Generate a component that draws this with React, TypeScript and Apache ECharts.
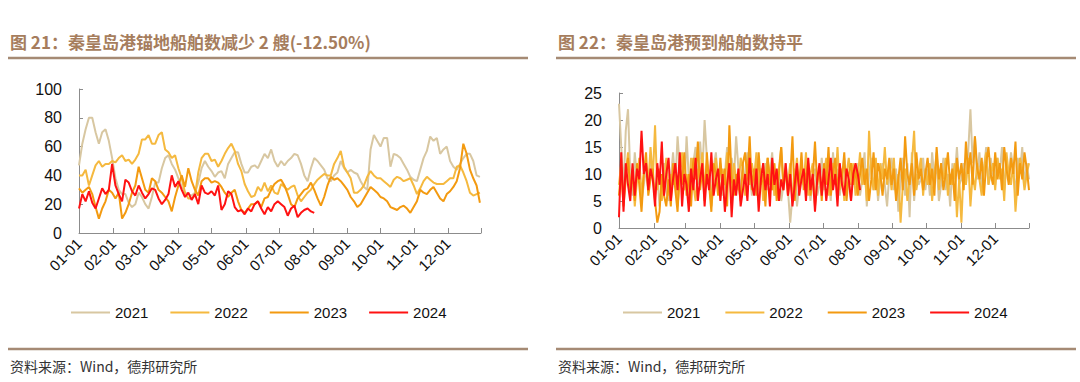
import React, { useEffect, useRef } from "react";
import * as echarts from "echarts";

const YEARS = ["2021", "2022", "2023", "2024"];
const COLORS = ["#d8c7a1", "#f5b93f", "#f39a10", "#ff1212"];
const MONTH_DAYS = [31, 28, 31, 30, 31, 30, 31, 31, 30, 31, 30, 31];

const TITLE_LEFT = "图 21：秦皇岛港锚地船舶数减少 2 艘(-12.50%)";
const TITLE_RIGHT = "图 22：秦皇岛港预到船舶数持平";
const SOURCE = "资料来源：Wind，德邦研究所";

// Left chart (锚地船舶数): one value every 3 days from 01-01
const LEFT_STEP = 3;
const LEFT_2021 = [
  47, 62, 72, 80, 80, 70, 62, 70, 72, 64,
  52, 38, 30, 27, 27, 21, 18, 20, 28, 25,
  20, 17, 25, 35, 35, 45, 52, 54, 48, 44,
  38, 32, 28, 27, 26, 28, 35, 45, 50, 46,
  43, 39, 42, 43, 38, 48, 52, 56, 56, 48,
  42, 42, 46, 47, 45, 50, 55, 52, 58, 50,
  46, 50, 47, 50, 52, 55, 54, 48, 40, 36,
  45, 52, 50, 47, 44, 38, 36, 40, 42, 50,
  45, 42, 44, 42, 41, 36, 32, 30, 58, 68,
  64, 60, 66, 66, 46, 55, 54, 52, 48, 44,
  39, 37, 36, 44, 52, 57, 67, 64, 66, 55,
  58, 60, 50, 46, 44, 48, 52, 55, 55, 50,
  40, 39,
];
const LEFT_2022 = [
  40, 40, 44, 33, 40, 47, 50, 46, 48, 48,
  50, 49, 52, 54, 50, 51, 48, 51, 55, 65,
  65, 68, 62, 62, 68, 70, 58, 56, 52, 54,
  45, 38, 28, 24, 24, 26, 42, 52, 55, 55,
  50, 51, 46, 50, 55, 59, 62, 57, 48, 43,
  34, 29, 25, 26, 32, 29, 35, 29, 33, 28,
  27, 34, 32, 30, 32, 33, 26, 22, 25, 28,
  30, 34, 37, 39, 41, 40, 40, 48, 52, 57,
  46, 42, 38, 28, 28, 30, 33, 39, 43, 40,
  38, 38, 36, 34, 32, 37, 39, 38, 36, 37,
  38, 33, 27, 31, 36, 39, 37, 35, 34, 34,
  34, 36, 38, 38, 46, 47, 42, 36, 28, 26,
  27, 28,
];
const LEFT_2023 = [
  31, 28, 30, 32, 27, 18, 10, 17, 22, 30,
  28, 24, 28, 10, 14, 20, 28, 33, 46, 38,
  30, 28, 38, 36, 30, 28, 25, 22, 15, 25,
  33, 40, 32, 45, 36, 30, 26, 36, 38, 38,
  35, 36, 35, 32, 28, 25, 28, 30, 22, 16,
  14, 17, 20, 20, 22, 18, 24, 25, 30, 34,
  36, 37, 33, 27, 20, 18, 24, 27, 30, 31,
  35, 30, 24, 19, 25, 33, 39, 37, 38, 36,
  33, 30, 25, 22, 18, 20, 24, 28, 32, 30,
  28, 25, 24, 22, 18, 17, 16, 18, 19, 17,
  14, 18, 22, 30, 28, 27, 30, 32, 28, 24,
  22, 27, 29, 32, 36, 45, 62, 55, 44, 38,
  33, 21,
];
const LEFT_2024 = [
  17, 27, 22, 29, 21, 17, 24, 31, 27, 30,
  48, 33, 27, 22, 37, 35, 29, 26, 33, 28,
  24, 27, 31, 30, 24, 20, 23, 27, 40, 32,
  36, 30, 25, 28, 23, 27, 20, 33, 28, 27,
  29, 26, 33, 16, 20, 29, 27, 18, 15, 16,
  13, 17, 15, 20, 22, 17, 13, 18, 15, 20,
  22, 20, 18, 12, 17, 19, 11, 14, 16, 17,
  15, 14,
];

// Right chart (预到船舶数): one value every 2 days from 01-01
const RIGHT_STEP = 2;
const RIGHT_2021 = [
  23, 15, 7, 18, 22, 10, 6, 14, 9, 12, 5, 8, 11, 7, 13, 9,
  6, 10, 4, 8, 12, 7, 5, 9, 14, 8, 17, 11, 10, 7,
  17, 9, 6, 12, 15, 8, 16, 10, 20, 13, 9, 5, 11, 14, 8,
  12, 6, 10, 15, 9, 13, 9, 17, 11, 7, 12, 8, 14, 10, 6,
  9, 13, 5, 11, 8, 12, 7, 10, 14, 6, 9, 11, 5, 8, 12, 7,
  1, 6, 11, 4, 8, 12, 8, 7, 10, 5, 9, 11, 6, 8, 13,
  7, 12, 9, 5, 14, 8, 11, 6, 10, 13, 7, 9, 5, 11, 8,
  12, 6, 9, 14, 4, 10, 13, 7, 11, 5, 9, 12, 8, 4, 10, 13,
  7, 11, 3, 9, 13, 6, 12, 2, 14, 5, 10, 8, 9, 13, 7,
  11, 6, 14, 9, 12, 5, 8, 13, 7, 10, 4, 12, 9, 15, 8,
  9, 12, 8, 14, 22, 12, 17, 9, 14, 7, 11, 15, 8, 13, 10,
  8, 13, 10, 15, 7, 12, 9, 14, 11, 6, 13, 10, 15, 8, 12, 9,
];
const RIGHT_2022 = [
  8, 12, 5, 10, 14, 7, 11, 4, 9, 13, 6, 10, 12, 8, 15, 9,
  19, 7, 11, 5, 9, 13, 6, 10, 8, 12, 4, 9, 14, 7,
  10, 6, 13, 8, 5, 11, 9, 14, 7, 12, 10, 4, 8, 13, 9,
  6, 11, 8, 14, 10, 5, 12, 9, 7, 13, 11, 6, 10, 8, 12,
  9, 14, 7, 11, 5, 10, 13, 8, 12, 6, 9, 11, 15, 7, 10, 8,
  12, 5, 9, 13, 7, 11, 8, 14, 6, 10, 12, 4, 9, 11, 7,
  10, 13, 6, 9, 12, 8, 15, 7, 11, 5, 10, 13, 8, 12, 6,
  9, 14, 8, 11, 5, 18, 10, 7, 13, 6, 12, 9, 15, 8, 11, 7,
  13, 6, 10, 1, 8, 11, 5, 9, 12, 18, 7, 10, 13, 6, 11,
  8, 12, 5, 10, 14, 7, 11, 9, 13, 6, 10, 8, 12, 2, 9,
  1, 11, 8, 13, 4, 10, 7, 12, 9, 6, 11, 14, 8, 10, 12,
  7, 13, 9, 11, 5, 14, 10, 8, 12, 3, 9, 13, 11, 7, 10, 12,
];
const RIGHT_2023 = [
  6, 11, 4, 9, 13, 7, 10, 5, 12, 8, 3, 10, 14, 6, 9, 11,
  5, 1, 3, 10, 6, 4, 9, 4, 12, 7, 3, 11, 8, 14,
  6, 10, 4, 13, 9, 16, 7, 11, 5, 14, 8, 3, 12, 10, 6,
  13, 7, 11, 4, 19, 9, 6, 10, 8, 5, 12, 14, 9, 17, 7,
  11, 6, 14, 8, 10, 4, 13, 9, 7, 12, 5, 10, 15, 8, 11, 6,
  9, 17, 5, 11, 8, 14, 7, 10, 12, 6, 9, 16, 8, 11, 5,
  12, 8, 15, 6, 10, 13, 7, 11, 9, 14, 5, 10, 12, 8, 11,
  6, 10, 13, 8, 11, 5, 9, 14, 7, 12, 10, 6, 11, 9, 13, 8,
  11, 5, 9, 13, 7, 17, 10, 8, 12, 6, 14, 9, 11, 7, 10,
  13, 8, 11, 6, 15, 9, 12, 7, 10, 14, 8, 11, 5, 13, 9,
  12, 7, 16, 10, 14, 8, 17, 11, 9, 13, 6, 12, 15, 10, 8,
  14, 9, 12, 7, 15, 11, 8, 13, 10, 16, 6, 12, 9, 14, 11, 7,
];
const RIGHT_2024 = [
  2, 14, 3, 12, 8, 5, 12, 6, 11, 9, 18, 10, 12, 7, 11, 9,
  4, 12, 8, 16, 6, 10, 13, 5, 9, 12, 7, 14, 4, 10,
  8, 3, 11, 7, 13, 5, 9, 12, 4, 10, 7, 14, 6, 9, 11,
  5, 10, 3, 8, 12, 2, 9, 6, 11, 4, 7, 10, 5, 13, 8,
  6, 11, 3, 9, 12, 7, 10, 4, 13, 8, 11, 5, 9, 7, 12, 6,
  10, 4, 8, 12, 6, 9, 11, 5, 13, 7, 10, 3, 9, 12, 6,
  11, 5, 9, 13, 7, 10, 4, 12, 8, 6, 11, 9, 5, 10, 12,
  10, 7,
];

const LEFT_Y = { min: 0, max: 100, interval: 20 };
const RIGHT_Y = { min: 0, max: 25, interval: 5 };

const pad = (n: number) => (n < 10 ? "0" + n : "" + n);
const DAYS: string[] = [];
MONTH_DAYS.forEach((n, m) => {
  for (let d = 1; d <= n; d++) DAYS.push(`${pad(m + 1)}-${pad(d)}`);
});

const toPairs = (vals: number[], step: number) => vals.map((v, i) => [i * step, v]);

const NUM_FONT = "Liberation Sans";
const CJK_FONT = "Noto Sans CJK SC";
const BROWN = "#a67d5d";
const RULE = "#a58a74";

function xAxis(gridIndex: number) {
  return {
    type: "category",
    gridIndex,
    data: DAYS,
    boundaryGap: false,
    axisLine: { lineStyle: { color: "#8c8c8c", width: 1 } },
    axisTick: {
      inside: true,
      length: 5,
      interval: (i: number, v: string) => v.endsWith("-01") || i === DAYS.length - 1,
      lineStyle: { color: "#8c8c8c" },
    },
    axisLabel: {
      interval: (i: number, v: string) => v.endsWith("-01"),
      rotate: 45,
      fontSize: 15,
      fontFamily: NUM_FONT,
      color: "#111",
      margin: 8,
    },
    splitLine: { show: false },
  };
}

function yAxis(gridIndex: number, cfg: { min: number; max: number; interval: number }) {
  return {
    type: "value",
    gridIndex,
    ...cfg,
    axisLine: { show: true, lineStyle: { color: "#8c8c8c", width: 1 } },
    axisTick: { show: true, inside: true, length: 4, lineStyle: { color: "#8c8c8c" } },
    axisLabel: { fontSize: 16, fontFamily: NUM_FONT, color: "#111", margin: 17 },
    splitLine: { show: false },
  };
}

function lineSeries(name: string, color: string, data: number[][], idx: number) {
  return {
    type: "line",
    name,
    xAxisIndex: idx,
    yAxisIndex: idx,
    data,
    showSymbol: false,
    symbol: "none",
    lineStyle: { color, width: 2 },
    itemStyle: { color },
    emphasis: { disabled: true },
  };
}

function legend(left: number, gap: number) {
  return {
    data: YEARS,
    left,
    top: 305,
    padding: 0,
    icon: "rect",
    itemWidth: 39,
    itemHeight: 2,
    itemGap: gap,
    selectedMode: false,
    textStyle: { fontSize: 15, fontFamily: NUM_FONT, color: "#111" },
  };
}

function textEl(text: string, x: number, y: number, size: number, color: string, weight: string) {
  return {
    type: "text",
    x,
    y,
    style: {
      text,
      fill: color,
      fontSize: size,
      fontWeight: weight,
      fontFamily: CJK_FONT,
      verticalAlign: "middle",
    },
  };
}

function ruleEl(x1: number, x2: number, y: number, w: number) {
  return {
    type: "line",
    shape: { x1, y1: y, x2, y2: y },
    style: { stroke: RULE, lineWidth: w },
  };
}

export default function App() {
  const ref = useRef<HTMLDivElement>(null);
  useEffect(() => {
    if (!ref.current) return;
    const chart = echarts.init(ref.current, null, { renderer: "svg" });
    const left = [LEFT_2021, LEFT_2022, LEFT_2023, LEFT_2024];
    const right = [RIGHT_2021, RIGHT_2022, RIGHT_2023, RIGHT_2024];
    chart.setOption({
      animation: false,
      backgroundColor: "#ffffff",
      grid: [
        { left: 79, top: 89, width: 402, height: 144 },
        { left: 619, top: 93, width: 410, height: 135 },
      ],
      xAxis: [xAxis(0), xAxis(1)],
      yAxis: [yAxis(0, LEFT_Y), yAxis(1, RIGHT_Y)],
      legend: [legend(71, 22), legend(623, 25)],
      series: [
        ...YEARS.map((y, k) => lineSeries(y, COLORS[k], toPairs(left[k], LEFT_STEP), 0)),
        ...YEARS.map((y, k) => lineSeries(y, COLORS[k], toPairs(right[k], RIGHT_STEP), 1)),
      ],
      graphic: [
        textEl(TITLE_LEFT, 10, 41, 17, BROWN, "bold"),
        textEl(TITLE_RIGHT, 558, 41, 17, BROWN, "bold"),
        ruleEl(8, 528, 58, 2.5),
        ruleEl(556, 1076, 58, 2.5),
        ruleEl(8, 528, 349, 2.5),
        ruleEl(556, 1076, 349, 2.5),
        textEl(SOURCE, 10, 366, 14, "#333", "normal"),
        textEl(SOURCE, 558, 366, 14, "#333", "normal"),
      ],
    });
    return () => chart.dispose();
  }, []);
  return (
    <div
      ref={ref}
      style={{ position: "fixed", left: 0, top: 0, width: 1080, height: 382, background: "#fff" }}
    />
  );
}
